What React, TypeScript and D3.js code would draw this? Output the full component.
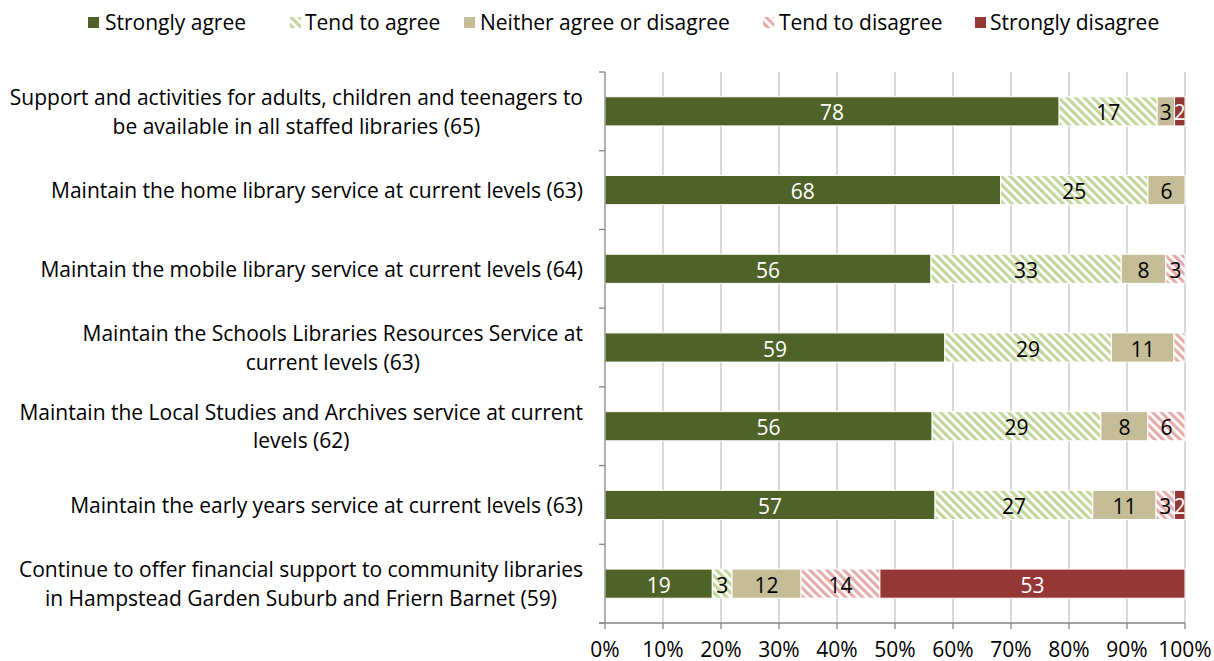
import React from "react";
import * as d3 from "d3";

const categories: string[][] = [
  ["Support and activities for adults, children and teenagers to", "be available in all staffed libraries (65)"],
  ["Maintain the home library service at current levels (63)"],
  ["Maintain the mobile library service at current levels (64)"],
  ["Maintain the Schools Libraries Resources Service at", "current levels (63)"],
  ["Maintain the Local Studies and Archives service at current", "levels (62)"],
  ["Maintain the early years service at current levels (63)"],
  ["Continue to offer financial support to community libraries", "in Hampstead Garden Suburb and Friern Barnet (59)"],
];

const seriesNames = ["Strongly agree", "Tend to agree", "Neither agree or disagree", "Tend to disagree", "Strongly disagree"];

const stronglyAgree = [78.3, 68.2, 56.2, 58.6, 56.4, 56.9, 18.5];
const tendToAgree = [16.9, 25.4, 32.8, 28.7, 29.1, 27.2, 3.4];
const neither = [3.0, 6.4, 7.7, 10.8, 8.1, 10.9, 11.9];
const tendToDisagree = [0, 0, 3.3, 1.9, 6.4, 3.2, 13.6];
const stronglyDisagree = [1.8, 0, 0, 0, 0, 1.8, 52.6];

// [rowIndex, seriesIndex] labels not shown in the reference
const hiddenLabels: [number, number][] = [[3, 3]];

const xTicks = [0, 10, 20, 30, 40, 50, 60, 70, 80, 90, 100];

const FONT = "'Open Sans', Lato, sans-serif";
const FS = 21;

let measureCtx: CanvasRenderingContext2D | null = null;
function textWidth(s: string): number {
  if (!measureCtx) {
    const c = document.createElement("canvas");
    measureCtx = c.getContext("2d");
  }
  if (!measureCtx) return s.length * FS * 0.47;
  measureCtx.font = `${FS}px 'Open Sans', Lato, sans-serif`;
  return measureCtx.measureText(s).width;
}

export default function App() {
  const W = 1214, H = 661;
  const left = 605, right = 1185, top = 72, bottom = 623;
  const x = d3.scaleLinear().domain([0, 100]).range([left, right]);
  const y = d3
    .scaleBand<number>()
    .domain(categories.map((_, i) => i))
    .range([top, bottom])
    .paddingInner(0.63)
    .paddingOuter(0.315);

  const seriesData = [stronglyAgree, tendToAgree, neither, tendToDisagree, stronglyDisagree];
  const rows = categories.map((_, i) => {
    const o: any = { i };
    seriesNames.forEach((s, k) => (o[s] = seriesData[k][i]));
    return o;
  });
  const stacked = d3.stack<any>().keys(seriesNames)(rows);

  const fills = ["#4f6228", "url(#hatchGreen)", "#c4bd97", "url(#hatchRed)", "#953735"];
  const labelColors = ["#ffffff", "#000000", "#000000", "#000000", "#ffffff"];
  const step = y.step();

  const legendItems = [
    { x: 88, tx: 105 },
    { x: 290, tx: 305 },
    { x: 464, tx: 480 },
    { x: 763, tx: 779 },
    { x: 975, tx: 990 },
  ];

  return (
    <svg width={W} height={H} style={{ display: "block", position: "absolute", left: 0, top: 0 }} fontFamily={FONT}>
      <defs>
        <pattern id="hatchGreen" patternUnits="userSpaceOnUse" width="6" height="6" patternTransform="rotate(-45)">
          <rect width="6" height="6" fill="#ffffff" />
          <rect width="3.2" height="6" fill="#c3d69b" />
        </pattern>
        <pattern id="hatchRed" patternUnits="userSpaceOnUse" width="6" height="6" patternTransform="rotate(-45)">
          <rect width="6" height="6" fill="#ffffff" />
          <rect width="3.2" height="6" fill="#e4acab" />
        </pattern>
      </defs>
      <rect width={W} height={H} fill="#ffffff" />

      {/* Legend */}
      {seriesNames.map((s, k) => (
        <g key={s}>
          <rect x={legendItems[k].x} y={17} width={11} height={11} fill={fills[k]} />
          <text x={legendItems[k].tx} y={22} dominantBaseline="central" fontSize={FS} fill="#000">
            {s}
          </text>
        </g>
      ))}

      {/* Gridlines */}
      {xTicks.slice(1).map((t) => (
        <line key={t} x1={x(t)} x2={x(t)} y1={top} y2={bottom} stroke="#bfbfbf" strokeWidth={1.2} />
      ))}

      {/* Bars */}
      {stacked.map((layer, k) => (
        <g key={layer.key}>
          {layer.map((d, i) => {
            const w = x(d[1]) - x(d[0]);
            if (w <= 0) return null;
            return (
              <rect
                key={i}
                x={x(d[0])}
                y={y(i)!}
                width={w}
                height={y.bandwidth()}
                fill={fills[k]}
                stroke="#ffffff"
                strokeWidth={1}
              />
            );
          })}
        </g>
      ))}

      {/* Data labels */}
      {stacked.map((layer, k) => (
        <g key={"l" + layer.key}>
          {layer.map((d, i) => {
            const v = d[1] - d[0];
            if (v <= 0) return null;
            if (hiddenLabels.some(([r, s]) => r === i && s === k)) return null;
            return (
              <text
                key={i}
                x={(x(d[0]) + x(d[1])) / 2}
                y={y(i)! + y.bandwidth() / 2 + 1}
                textAnchor="middle"
                dominantBaseline="central"
                fontSize={FS}
                fill={labelColors[k]}
              >
                {Math.round(v)}
              </text>
            );
          })}
        </g>
      ))}

      {/* Axes */}
      <line x1={left} x2={left} y1={top} y2={bottom} stroke="#868686" strokeWidth={1.3} />
      {d3.range(categories.length + 1).map((j) => (
        <line key={j} x1={left - 6} x2={left} y1={top + j * step} y2={top + j * step} stroke="#868686" strokeWidth={1.3} />
      ))}
      <line x1={left - 6} x2={right} y1={bottom} y2={bottom} stroke="#868686" strokeWidth={1.3} />
      {xTicks.map((t) => (
        <g key={t}>
          <line x1={x(t)} x2={x(t)} y1={bottom} y2={bottom + 6} stroke="#868686" strokeWidth={1.3} />
          <text x={x(t)} y={649} textAnchor="middle" dominantBaseline="central" fontSize={FS} fill="#000">
            {t + "%"}
          </text>
        </g>
      ))}

      {/* Category labels: block right-aligned, lines centred within block */}
      {categories.map((lines, i) => {
        const cy = y(i)! + y.bandwidth() / 2;
        const lh = 28.5;
        const anchorX = 583;
        const blockW = Math.max(...lines.map(textWidth));
        const cx = anchorX - blockW / 2;
        return (
          <g key={i}>
            {lines.map((ln, j) => (
              <text
                key={j}
                x={cx}
                y={cy + (j - (lines.length - 1) / 2) * lh}
                dominantBaseline="central"
                textAnchor="middle"
                fontSize={FS}
                fill="#000"
              >
                {ln}
              </text>
            ))}
          </g>
        );
      })}
    </svg>
  );
}
